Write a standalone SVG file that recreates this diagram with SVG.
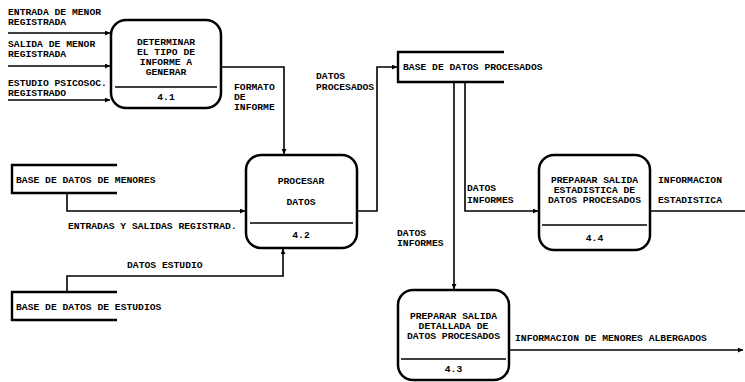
<svg xmlns="http://www.w3.org/2000/svg" width="745" height="382" viewBox="0 0 745 382">
<style>
text{font-family:"Liberation Mono","DejaVu Sans Mono",monospace;font-weight:bold;font-size:9.7px;fill:#000}
.c{text-anchor:middle}
.box{fill:#fff;stroke:#000;stroke-width:2.5}
.div{stroke:#000;stroke-width:1.6}
.st{fill:none;stroke:#000;stroke-width:2.4}
.ln{fill:none;stroke:#000;stroke-width:1.6}
</style>
<defs>
<marker id="ah" viewBox="0 0 10 10" refX="10" refY="5" markerWidth="5" markerHeight="5" markerUnits="userSpaceOnUse" orient="auto">
<path d="M0,0 L10,5 L0,10 z" fill="#000"/>
</marker>
</defs>
<rect width="745" height="382" fill="#fff"/>
<g id="connectors">
<path class="ln" d="M8,33 H110" marker-end="url(#ah)"/>
<path class="ln" d="M8,66 H110" marker-end="url(#ah)"/>
<path class="ln" d="M8,100 H110" marker-end="url(#ah)"/>
<path class="ln" d="M221,67 H284 V154" marker-end="url(#ah)"/>
<path class="ln" d="M357,211 H377 V67 H397" marker-end="url(#ah)"/>
<path class="ln" d="M465,82 V211 H538" marker-end="url(#ah)"/>
<path class="ln" d="M454,82 V289" marker-end="url(#ah)"/>
<path class="ln" d="M650,211 H750" marker-end="url(#ah)"/>
<path class="ln" d="M509,350 H743" marker-end="url(#ah)"/>
<path class="ln" d="M67,193 V211 H245" marker-end="url(#ah)"/>
<path class="ln" d="M67,292 V276 H283 V249" marker-end="url(#ah)"/>
<text x="8" y="15">ENTRADA DE MENOR</text>
<text x="8" y="25">REGISTRADA</text>
<text x="8" y="47">SALIDA DE MENOR</text>
<text x="8" y="57">REGISTRADA</text>
<text x="8" y="86">ESTUDIO PSICOSOC.</text>
<text x="8" y="96">REGISTRADO</text>
<text x="234" y="90">FORMATO</text>
<text x="234" y="100">DE</text>
<text x="234" y="110">INFORME</text>
<text x="316" y="79">DATOS</text>
<text x="316" y="90">PROCESADOS</text>
<text x="68" y="229">ENTRADAS Y SALIDAS REGISTRAD.</text>
<text x="127" y="268">DATOS ESTUDIO</text>
<text x="467" y="191">DATOS</text>
<text x="467" y="203">INFORMES</text>
<text x="658" y="183">INFORMACION</text>
<text x="658" y="203">ESTADISTICA</text>
<text x="397" y="236">DATOS</text>
<text x="397" y="246">INFORMES</text>
<text x="515" y="341">INFORMACION DE MENORES ALBERGADOS</text>
</g>
<g id="p41">
<rect class="box" x="111" y="20" width="110" height="88" rx="15"/>
<line class="div" x1="115" y1="87" x2="217" y2="87"/>
<text class="c" x="166" y="45">DETERMINAR</text>
<text class="c" x="166" y="55">EL TIPO DE</text>
<text class="c" x="166" y="65">INFORME A</text>
<text class="c" x="166" y="75">GENERAR</text>
<text class="c" x="166" y="100">4.1</text>
</g>
<g id="p42">
<rect class="box" x="246" y="155" width="111" height="93" rx="15"/>
<line class="div" x1="250" y1="223" x2="353" y2="223"/>
<text class="c" x="301" y="184">PROCESAR</text>
<text class="c" x="301" y="205">DATOS</text>
<text class="c" x="301" y="238">4.2</text>
</g>
<g id="p44">
<rect class="box" x="539" y="155" width="111" height="95" rx="15"/>
<line class="div" x1="542" y1="225" x2="647" y2="225"/>
<text class="c" x="594.5" y="183">PREPARAR SALIDA</text>
<text class="c" x="594.5" y="193">ESTADISTICA DE</text>
<text class="c" x="594.5" y="203">DATOS PROCESADOS</text>
<text class="c" x="594.5" y="241">4.4</text>
</g>
<g id="p43">
<rect class="box" x="398" y="290" width="111" height="90" rx="15"/>
<line class="div" x1="401" y1="359" x2="506" y2="359"/>
<text class="c" x="453.5" y="319">PREPARAR SALIDA</text>
<text class="c" x="453.5" y="329">DETALLADA DE</text>
<text class="c" x="453.5" y="339">DATOS PROCESADOS</text>
<text class="c" x="453.5" y="372">4.3</text>
</g>
<g id="storeProcesados">
<path class="st" d="M504,52 H398 V82 H504"/>
<text x="403" y="70">BASE DE DATOS PROCESADOS</text>
</g>
<g id="storeMenores">
<path class="st" d="M117,165 H12 V193 H117"/>
<text x="16" y="183">BASE DE DATOS DE MENORES</text>
</g>
<g id="storeEstudios">
<path class="st" d="M117,292 H12 V320 H117"/>
<text x="16" y="310">BASE DE DATOS DE ESTUDIOS</text>
</g>
</svg>
